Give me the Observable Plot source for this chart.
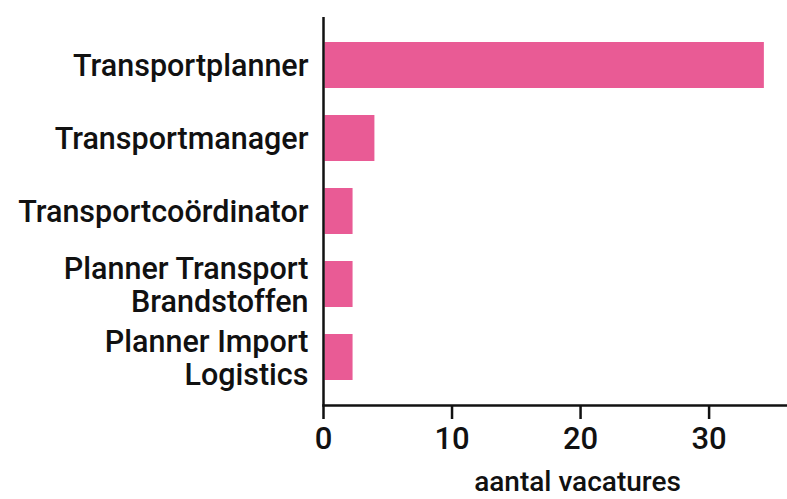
<!DOCTYPE html>
<html>
<head>
<meta charset="utf-8">
<script src="https://cdn.jsdelivr.net/npm/d3@7"></script>
<script src="https://cdn.jsdelivr.net/npm/@observablehq/plot@0.6"></script>
<style>
  html, body { margin: 0; padding: 0; background: #fff; }
  #chart svg line, #chart svg path { stroke-width: 2.5px; }
</style>
</head>
<body>
<div id="chart"></div>
<script>
const categories = [
  "Transportplanner",
  "Transportmanager",
  "Transportcoördinator",
  "Planner Transport\nBrandstoffen",
  "Planner Import\nLogistics"
];
const values = [34.3, 4, 2.3, 2.3, 2.3];
const xTicks = [0, 10, 20, 30];
const xLabel = "aantal vacatures";

const data = categories.map((c, i) => ({category: c, value: values[i]}));

const chart = Plot.plot({
  width: 787,
  height: 499,
  marginLeft: 323,
  marginRight: 0,
  marginTop: 17,
  marginBottom: 94,
  style: {fontFamily: "Roboto", fontWeight: 500, fontSize: "31px", color: "#111", background: "#fff"},
  x: {domain: [0, 36.1], ticks: xTicks, tickSize: 14, tickPadding: 7, line: true, label: null},
  y: {domain: categories, paddingInner: 0.365, paddingOuter: 0.33},
  marks: [
    Plot.barX(data, {x: "value", y: "category", fill: "#e95b95", insetLeft: 1.5}),
    Plot.ruleX([0], {stroke: "#111", strokeWidth: 2.5}),
    Plot.axisY({tickSize: 0, tickPadding: 15, fontSize: 30.5, fontWeight: 500, label: null, lineHeight: 1.08}),
    Plot.text([xLabel], {frameAnchor: "bottom", text: d => d, dx: 22, dy: 85, lineAnchor: "bottom", fontSize: 28, fontWeight: 500, fill: "#111"})
  ]
});
document.getElementById("chart").appendChild(chart);
</script>
</body>
</html>
